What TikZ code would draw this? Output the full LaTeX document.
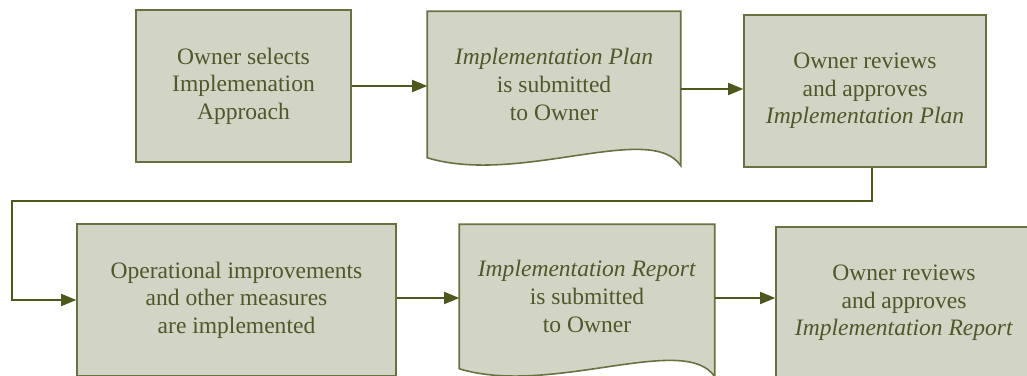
\documentclass[tikz,border=0pt]{standalone}
\usepackage{fontspec}
\setmainfont{Liberation Serif}
\usepackage{xcolor}
\usetikzlibrary{arrows.meta,calc,positioning,backgrounds}
\definecolor{boxfill}{RGB}{210,212,197}
\definecolor{boxline}{RGB}{104,114,64}
\definecolor{olivetext}{RGB}{78,88,40}
\definecolor{arrowcol}{RGB}{76,88,28}

\begin{document}
\begin{tikzpicture}[x=0.02cm,y=-0.02cm]
  \tikzset{ stepbox/.style={rectangle,draw=boxline,fill=boxfill,line width=0.9pt,text=olivetext,align=center,inner sep=0pt,font=\fontsize{13.4}{15.7}\selectfont},
    docbox/.style={stepbox,draw=none,fill=none},
    wave/.style={draw=boxline,fill=boxfill,line width=0.9pt},
    flow/.style={draw=arrowcol,line width=0.9pt,-{Triangle[length=0.3cm,width=0.24cm]}},
  }
  \useasboundingbox (0,0) rectangle (1027,375);
  \clip (0,0) rectangle (1027,375);

  % top row
  \node[stepbox,minimum width=4.3cm,minimum height=3.04cm] (select) at (243.5,86) {Owner selects\\Implemenation\\Approach};
  \node[docbox,minimum width=5.04cm,minimum height=2.9cm] (plan) at (554,84.5) {\textit{Implementation Plan}\\is submitted\\to Owner};
  \node[stepbox,minimum width=4.84cm,minimum height=3.04cm] (approveplan) at (865,91) {Owner reviews\\and approves\\\textit{Implementation Plan}};

  % bottom row
  \node[stepbox,minimum width=6.38cm,minimum height=3.04cm] (measures) at (236.5,300) {Operational improvements\\and other measures\\are implemented};
  \node[docbox,minimum width=5.08cm,minimum height=2.86cm] (report) at (587,296.5) {\textit{Implementation Report}\\is submitted\\to Owner};
  \node[stepbox,minimum width=5.12cm,minimum height=3.04cm] (approvereport) at (904,303) {Owner reviews\\and approves\\\textit{Implementation Report}};

  % document outlines
  \begin{scope}[on background layer]
    \foreach \d in {plan,report} {
      \filldraw[wave] (\d.north west) -- (\d.north east) -- ($(\d.south east)+(0,8)$)
        .. controls ($(\d.south east)+(-30,-37)$) and ($(\d.south west)+(92,28)$) .. (\d.south west) -- cycle;
    }
  \end{scope}

  \coordinate (back) at (12,201);
  \draw[flow] (select.east) -- (select.east -| plan.west);
  \draw[flow] (plan.east |- 0,89) -- (approveplan.west |- 0,89);
  \draw[flow] ($(approveplan.south)+(7,0)$) |- (back) |- (measures.west);
  \draw[flow] (measures.east |- 0,298) -- (report.west |- 0,298);
  \draw[flow] (report.east |- 0,298) -- (approvereport.west |- 0,298);
\end{tikzpicture}
\end{document}
